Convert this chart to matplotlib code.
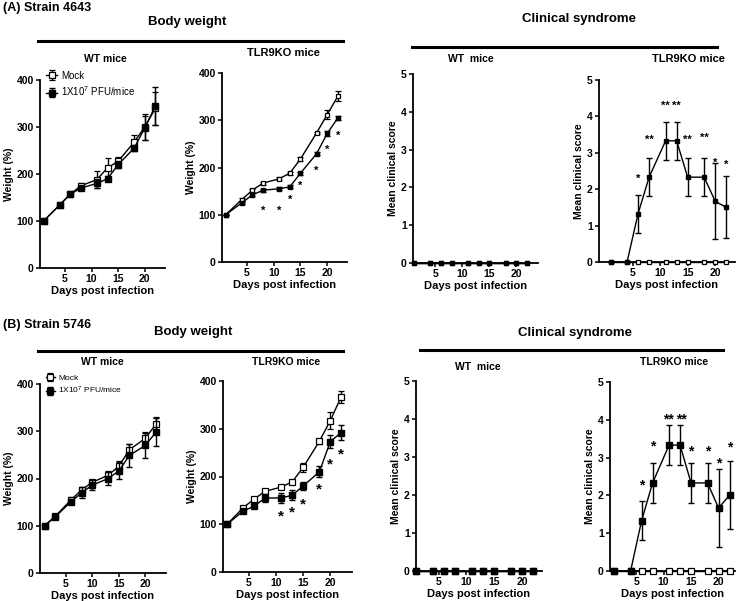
import numpy as np
import matplotlib
matplotlib.use("Agg")
import matplotlib.pyplot as plt
from matplotlib.lines import Line2D

plt.rcParams['font.family'] = ['Liberation Sans', 'DejaVu Sans']
plt.rcParams['mathtext.default'] = 'regular'

W, H = 740, 601

# ---- (A) strain 4643 ----
days_a = [1, 4, 6, 8, 11, 13, 15, 18, 20, 22]
wt_a_mock = [100, 134, 157, 175, 188, 213, 227, 268, 300, 340]
wt_a_mock_err = [0, 3, 3, 5, 18, 20, 10, 15, 27, 35]
wt_a_inf = [100, 134, 157, 170, 180, 190, 220, 255, 298, 345]
wt_a_inf_err = [0, 3, 3, 5, 10, 5, 8, 5, 25, 40]

ko_a_mock = [100, 132, 152, 167, 176, 188, 218, 273, 312, 351]
ko_a_mock_err = [0, 3, 3, 3, 3, 3, 5, 3, 10, 10]
ko_a_inf = [100, 125, 142, 152, 155, 159, 188, 229, 272, 305]
ko_a_inf_err = [0, 3, 3, 3, 3, 3, 3, 3, 5, 5]
ko_a_star_days = [8, 11, 13, 15, 18, 20, 22]
ko_a_star_y = [116, 116, 139, 169, 202, 245, 275]

clin_a_wt_mock = [0, 0, 0, 0, 0, 0, 0, 0, 0, 0]
clin_a_wt_inf = [0, 0, 0, 0, 0, 0, 0, 0, 0, 0]
clin_a_ko_mock = [0, 0, 0, 0, 0, 0, 0, 0, 0, 0]
clin_a_ko_inf = [0, 0, 1.33, 2.33, 3.33, 3.33, 2.33, 2.33, 1.67, 1.5]
clin_a_ko_inf_err = [0, 0, 0.52, 0.52, 0.52, 0.52, 0.52, 0.52, 1.05, 0.85]
clin_a_star_days = [6, 8, 11, 13, 15, 18, 20, 22]
clin_a_star_y = [2.39, 3.46, 4.39, 4.39, 3.46, 3.53, 2.84, 2.77]
clin_a_star_txt = ['*', '**', '**', '**', '**', '**', '*', '*']

# ---- (B) strain 5746 ----
days_b_wt = [1, 3, 6, 8, 10, 13, 15, 17, 20, 22]
wt_b_mock = [100, 120, 155, 176, 192, 207, 226, 261, 285, 315]
wt_b_mock_err = [0, 2, 5, 5, 5, 8, 10, 12, 14, 15]
wt_b_inf = [100, 119, 151, 170, 186, 200, 216, 249, 270, 298]
wt_b_inf_err = [0, 2, 6, 12, 10, 14, 18, 25, 26, 30]

days_b = [1, 4, 6, 8, 11, 13, 15, 18, 20, 22]
ko_b_mock = [100, 135, 153, 169, 178, 189, 219, 274, 317, 367]
ko_b_mock_err = [0, 3, 3, 3, 3, 3, 10, 5, 18, 13]
ko_b_inf = [100, 128, 138, 155, 155, 161, 180, 210, 273, 292]
ko_b_inf_err = [0, 3, 3, 8, 10, 10, 8, 12, 13, 15]
ko_b_star_days = [11, 13, 15, 18, 20, 22]
ko_b_star_y = [128, 136, 152, 185, 236, 257]

clin_b_wt_mock = [0, 0, 0, 0, 0, 0, 0, 0, 0, 0]
clin_b_wt_inf = [0, 0, 0, 0, 0, 0, 0, 0, 0, 0]
clin_b_ko_mock = [0, 0, 0, 0, 0, 0, 0, 0, 0, 0]
clin_b_ko_inf = [0, 0, 1.33, 2.33, 3.33, 3.33, 2.33, 2.33, 1.67, 2.0]
clin_b_ko_inf_err = [0, 0, 0.52, 0.52, 0.52, 0.52, 0.52, 0.52, 1.03, 0.9]
clin_b_star_days = [6, 8, 10.8, 13.3, 15, 18, 20, 22]
clin_b_star_y = [2.4, 3.41, 4.14, 4.14, 3.28, 3.28, 2.97, 3.39]
clin_b_star_txt = ['*', '*', '**', '**', '*', '*', '*', '*']

fig = plt.figure(figsize=(W / 100, H / 100), dpi=100)


def px_axes(left, top, right, bottom):
    return fig.add_axes([left / W, 1 - bottom / H, (right - left) / W, (bottom - top) / H])


def ftext(x, y, s, size, **kw):
    fig.text(x / W, 1 - y / H, s, fontsize=size, fontweight='bold', va='center', **kw)


def hline(x0, x1, y):
    fig.add_artist(Line2D([x0 / W, x1 / W], [1 - y / H, 1 - y / H], color='black', lw=2.2))


def style(ax, xlim, ylim, yticks, ylabel):
    ax.set_xlim(*xlim)
    ax.set_ylim(*ylim)
    ax.set_xticks([5, 10, 15, 20])
    ax.set_yticks(yticks)
    for s in ['top', 'right']:
        ax.spines[s].set_visible(False)
    for s in ['left', 'bottom']:
        ax.spines[s].set_linewidth(1.3)
    ax.tick_params(direction='out', length=3, width=1.1, pad=1.5, labelsize=7.5)
    for lab in ax.get_xticklabels() + ax.get_yticklabels():
        lab.set_fontweight('bold')
    ax.set_xlabel('Days post infection', fontsize=8, fontweight='bold', labelpad=1)
    ax.set_ylabel(ylabel, fontsize=7.5, fontweight='bold', labelpad=2)


def series(ax, days, mock, inf, mock_err=None, inf_err=None, ms=3.8):
    ax.errorbar(days, mock, yerr=mock_err, color='black', lw=1, marker='s', ms=ms,
                mfc='white', mec='black', mew=0.9, capsize=2.2, elinewidth=1,
                clip_on=False, zorder=3, label='Mock')
    ax.errorbar(days, inf, yerr=inf_err, color='black', lw=1, marker='s', ms=ms,
                mfc='black', mec='black', capsize=2.2, elinewidth=1,
                clip_on=False, zorder=4, label='1X10$^{7}$ PFU/mice')


def stars(ax, sdays, sy, txt, size):
    for d, y, t in zip(sdays, sy, txt):
        ax.annotate(t, (d, y), xytext=(0, -size * 0.35), textcoords='offset points',
                    ha='center', va='center', fontsize=size, fontweight='bold')


def legend(ax, size):
    ax.legend(loc='upper left', bbox_to_anchor=(0.02, 1.07), frameon=False,
              fontsize=size, handlelength=1.1, handletextpad=0.4, labelspacing=0.35,
              borderaxespad=0)


# ---------------- row A ----------------
ftext(3, 8, '(A) Strain 4643', 9, ha='left')
ftext(187, 22, 'Body weight', 9.5, ha='center')
hline(38, 343, 41)
ftext(579, 19, 'Clinical syndrome', 9.5, ha='center')
hline(412, 717, 47)

ax = px_axes(40, 80, 165, 268)
series(ax, days_a, wt_a_mock, wt_a_inf, wt_a_mock_err, wt_a_inf_err)
style(ax, (0.32, 23.8), (0, 400), [0, 100, 200, 300, 400], 'Weight (%)')
legend(ax, 7)
ftext(105, 59, 'WT mice', 7.5, ha='center')

ax = px_axes(222, 73, 347, 262)
series(ax, days_a, ko_a_mock, ko_a_inf, ko_a_mock_err, ko_a_inf_err, ms=3.4)
style(ax, (0.32, 23.7), (0, 400), [0, 100, 200, 300, 400], 'Weight (%)')
stars(ax, ko_a_star_days, ko_a_star_y, ['*'] * len(ko_a_star_days), 8)
ftext(283, 53, 'TLR9KO mice', 8, ha='center')

ax = px_axes(413, 74, 538, 263)
series(ax, days_a, clin_a_wt_mock, clin_a_wt_inf, ms=3.4)
style(ax, (0.85, 24.0), (0, 5), [0, 1, 2, 3, 4, 5], 'Mean clinical score')
ftext(471, 59, 'WT  mice', 7.5, ha='center')

ax = px_axes(599, 80, 735, 262)
series(ax, days_a, clin_a_ko_mock, clin_a_ko_inf, None, clin_a_ko_inf_err, ms=3.4)
style(ax, (-1.1, 23.6), (0, 5), [0, 1, 2, 3, 4, 5], 'Mean clinical score')
stars(ax, clin_a_star_days, clin_a_star_y, clin_a_star_txt, 8)
ftext(688, 59, 'TLR9KO mice', 8, ha='center')

# ---------------- row B ----------------
ftext(3, 325, '(B) Strain 5746', 9, ha='left')
ftext(193, 332, 'Body weight', 9.5, ha='center')
hline(38, 343, 351)
ftext(575, 333, 'Clinical syndrome', 9.5, ha='center')
hline(420, 723, 350)

ax = px_axes(40, 384, 166, 573)
series(ax, days_b_wt, wt_b_mock, wt_b_inf, wt_b_mock_err, wt_b_inf_err)
style(ax, (0.13, 23.9), (0, 400), [0, 100, 200, 300, 400], 'Weight (%)')
legend(ax, 6)
ftext(102, 362, 'WT mice', 7.5, ha='center')

ax = px_axes(223, 381, 352, 572)
series(ax, days_b, ko_b_mock, ko_b_inf, ko_b_mock_err, ko_b_inf_err)
style(ax, (0.24, 24.0), (0, 400), [0, 100, 200, 300, 400], 'Weight (%)')
stars(ax, ko_b_star_days, ko_b_star_y, ['*'] * len(ko_b_star_days), 11)
ftext(286, 362, 'TLR9KO mice', 7.5, ha='center')

ax = px_axes(416, 381, 542, 571)
series(ax, days_b, clin_b_wt_mock, clin_b_wt_inf)
style(ax, (0.94, 23.6), (0, 5), [0, 1, 2, 3, 4, 5], 'Mean clinical score')
ftext(478, 367, 'WT  mice', 7.5, ha='center')

ax = px_axes(610, 382, 735, 571)
series(ax, days_b, clin_b_ko_mock, clin_b_ko_inf, None, clin_b_ko_inf_err)
style(ax, (0.25, 23.0), (0, 5), [0, 1, 2, 3, 4, 5], 'Mean clinical score')
stars(ax, clin_b_star_days, clin_b_star_y, clin_b_star_txt, 10)
ftext(674, 362, 'TLR9KO mice', 7.5, ha='center')

fig.savefig('out.png', dpi=100)
